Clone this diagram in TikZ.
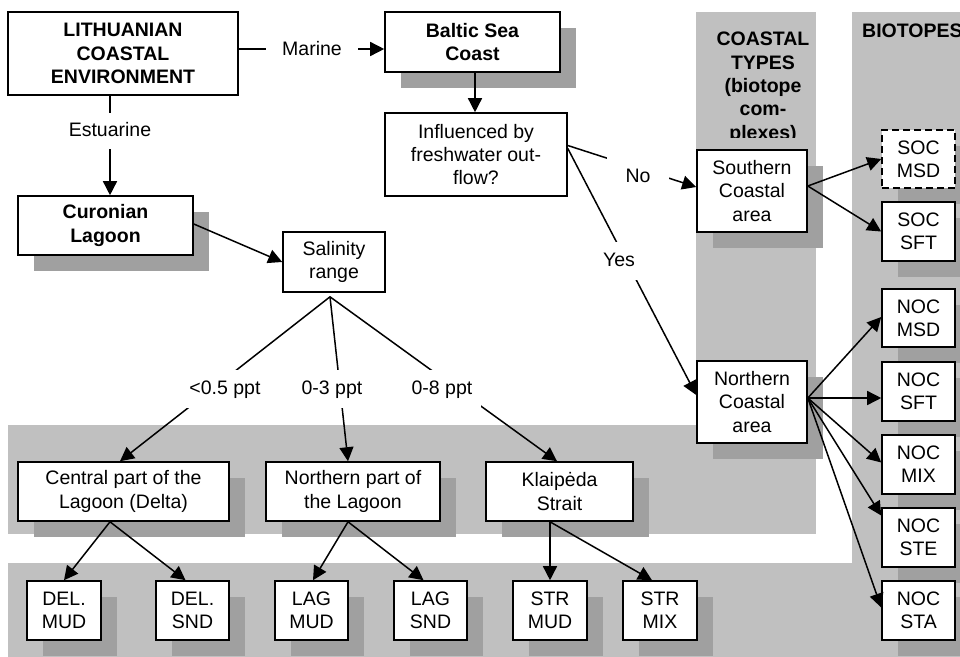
\documentclass[tikz,border=0pt]{standalone}
\usepackage{fontspec}
\setmainfont{Liberation Sans}
\usetikzlibrary{arrows.meta,shadows}
\definecolor{bandgray}{RGB}{192,192,192}
\definecolor{shadegray}{RGB}{160,160,160}
\newcommand{\dgfont}{\fontsize{19.5}{23.3}\selectfont}
\begin{document}
\begin{tikzpicture}[x=1pt,y=-1pt,
  box/.style={draw, line width=1.6pt, fill=white, align=center, inner sep=0pt, font=\dgfont},
  bbox/.style={box, font=\dgfont\bfseries},
  shd/.style={drop shadow={shadow xshift=16pt, shadow yshift=-16pt, fill=shadegray, opacity=1}},
  dashbox/.style={dash pattern=on 7pt off 4pt},
  lbl/.style={fill=white, inner xsep=5pt, inner ysep=10pt, text height=14pt, text depth=4pt, font=\dgfont},
  head/.style={align=center, inner sep=0pt, font=\dgfont\bfseries},
  arr/.style={-{Triangle[length=14pt,width=14pt]}, line width=1.5pt},
  ln/.style={line width=1.5pt}]
\clip (0,0) rectangle (960,656);
% background bands
\fill[bandgray] (696,12) rectangle (816,534);
\fill[bandgray] (8,425) rectangle (816,534);
\fill[bandgray] (8,563) rectangle (852,660);
\fill[bandgray] (852,12) rectangle (965,660);
% headings
\begin{scope}
\clip (696,12) rectangle (816,137);
\node[head, anchor=north] (ctypes) at (763,32) {COASTAL\\TYPES\\(biotope\\com-\\plexes)};
\end{scope}
\node[head, anchor=base west] (bioh) at (862,37) {BIOTOPES};
% boxes
\node[bbox, minimum width=230pt, minimum height=83pt] (lit) at (123,53.5) {LITHUANIAN\\COASTAL\\ENVIRONMENT};
\node[bbox, shd, minimum width=175pt, minimum height=60pt] (baltic) at (472.5,42) {Baltic Sea\\Coast};
\node[box, minimum width=182pt, minimum height=83pt] (infl) at (476,154.5) {Influenced by\\freshwater out-\\flow?};
\node[bbox, shd, minimum width=175pt, minimum height=59pt] (cur) at (105.5,225.5) {Curonian\\Lagoon};
\node[box, minimum width=102pt, minimum height=60pt] (sal) at (334,262) {Salinity\\range};
\node[box, shd, minimum width=211pt, minimum height=59pt] (cen) at (123.5,491.5) {Central part of the\\Lagoon (Delta)};
\node[box, shd, minimum width=174pt, minimum height=59pt] (nor) at (353,491.5) {Northern part of\\the Lagoon};
\node[box, shd, minimum width=147pt, minimum height=59pt] (kla) at (559.5,491.5) {Klaipėda\\Strait};
\node[box, shd, minimum width=74pt, minimum height=59pt] (delmud) at (64,610.5) {DEL.\\MUD};
\node[box, shd, minimum width=73pt, minimum height=59pt] (delsnd) at (192.5,610.5) {DEL.\\SND};
\node[box, shd, minimum width=73pt, minimum height=59pt] (lagmud) at (311.5,610.5) {LAG\\MUD};
\node[box, shd, minimum width=73pt, minimum height=59pt] (lagsnd) at (430.5,610.5) {LAG\\SND};
\node[box, shd, minimum width=74pt, minimum height=59pt] (strmud) at (550,610.5) {STR\\MUD};
\node[box, shd, minimum width=74pt, minimum height=59pt] (strmix) at (660,610.5) {STR\\MIX};
\node[box, shd, minimum width=110pt, minimum height=82pt] (sou) at (752,191) {Southern\\Coastal\\area};
\node[box, shd, minimum width=110pt, minimum height=82pt] (noc) at (752,402) {Northern\\Coastal\\area};
\node[box, shd, dashbox, minimum width=73pt, minimum height=58pt] (socmsd) at (918.5,159) {SOC\\MSD};
\node[box, shd, minimum width=73pt, minimum height=59pt] (socsft) at (918.5,231.5) {SOC\\SFT};
\node[box, shd, minimum width=73pt, minimum height=58pt] (nocmsd) at (918.5,318) {NOC\\MSD};
\node[box, shd, minimum width=73pt, minimum height=59pt] (nocsft) at (918.5,391.5) {NOC\\SFT};
\node[box, shd, minimum width=73pt, minimum height=59pt] (nocmix) at (918.5,464.5) {NOC\\MIX};
\node[box, shd, minimum width=73pt, minimum height=59pt] (nocste) at (918.5,537.5) {NOC\\STE};
\node[box, shd, minimum width=73pt, minimum height=59pt] (nocsta) at (918.5,610.5) {NOC\\STA};
% connectors
\coordinate (mIn) at ([yshift=-7pt]baltic.west);
\draw[arr] (lit.east |- mIn) -- (mIn);
\coordinate (eIn) at ([xshift=4.5pt]cur.north);
\draw[arr] (lit.south -| eIn) -- (eIn);
\draw[arr] ([xshift=2.5pt]baltic.south) -- ([xshift=2.5pt]baltic.south |- infl.north);
\draw[arr] ([yshift=1.5pt]cur.east) -- (sal.west);
\coordinate (apex) at ([xshift=-4pt,yshift=-4pt]sal.south);
\draw[arr] (apex) -- ([xshift=-3.5pt]cen.north);
\draw[arr] (apex) -- ([xshift=-5pt]nor.north);
\draw[arr] (apex) -- ([xshift=-2.5pt]kla.north);
\draw[arr] ([xshift=-13.5pt]cen.south) -- (delmud.north);
\draw[arr] ([xshift=-13.5pt]cen.south) -- ([xshift=-7pt]delsnd.north);
\draw[arr] ([xshift=-5pt]nor.south) -- ([xshift=1.5pt]lagmud.north);
\draw[arr] ([xshift=-5pt]nor.south) -- ([xshift=-7pt]lagsnd.north);
\draw[arr] ([xshift=-9.5pt]kla.south) -- (strmud.north);
\draw[arr] ([xshift=-9.5pt]kla.south) -- ([xshift=-8pt]strmix.north);
\draw[arr] ([yshift=9pt]infl.east) -- ([yshift=4pt]sou.west);
\draw[arr] ([yshift=6pt]infl.east) -- ([yshift=7pt]noc.west);
\draw[arr] ([yshift=5pt]sou.east) -- (socmsd.west);
\draw[arr] ([yshift=5pt]sou.east) -- (socsft.west);
\coordinate (nocout) at ([yshift=4pt]noc.east);
\draw[arr] (nocout) -- ([yshift=1pt]nocmsd.west);
\draw[arr] (nocout) -- (nocout -| nocsft.west);
\draw[arr] (nocout) -- ([yshift=2pt]nocmix.west);
\draw[arr] (nocout) -- ([yshift=22pt]nocste.west);
\draw[arr] (nocout) -- ([yshift=3pt]nocsta.west);
% labels
\node[lbl, inner xsep=16pt] (marine) at (312,50) {Marine};
\node[lbl, inner ysep=9pt] (estu) at (110,131) {Estuarine};
\node[lbl] (p1) at (225,389) {<0.5 ppt};
\node[lbl] (p2) at (332,389) {0-3 ppt};
\node[lbl, inner xsep=9pt] (p3) at (442,389) {0-8 ppt};
\node[lbl, inner xsep=19pt, inner ysep=11pt] (no) at (638,177) {No};
\node[lbl, inner xsep=4pt] (yes) at (619,261) {Yes};
\end{tikzpicture}
\end{document}
